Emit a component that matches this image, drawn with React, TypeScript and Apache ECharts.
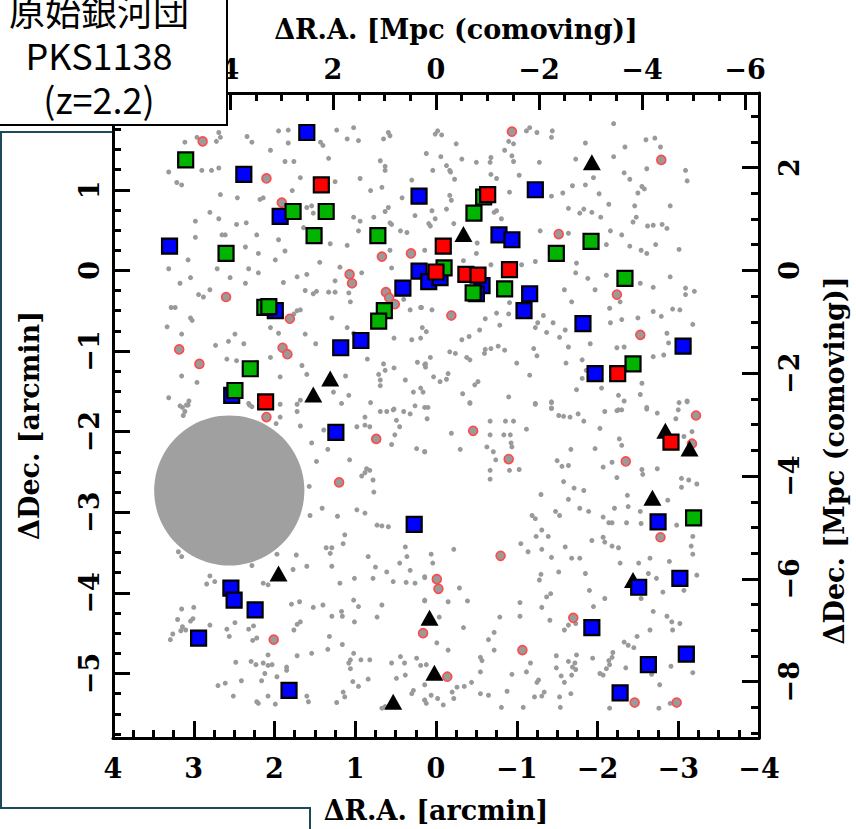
import React, { useEffect, useRef } from "react";
import * as echarts from "echarts";

// ---------- data (arcmin offsets: [ΔR.A., ΔDec.]) ----------
const MPC_PER_ARCMIN = 1.568;
const RA_MIN = -4;
const RA_MAX = 4;
const DEC_MIN = -5.8;
const DEC_MAX = 2.2;

const raArcminTicks = [4, 3, 2, 1, 0, -1, -2, -3, -4];
const decArcminLabels = [1, 0, -1, -2, -3, -4, -5];
const decArcminTicks = [2, 1, 0, -1, -2, -3, -4, -5];
const raMpcLabels = [4, 2, 0, -2, -4, -6];
const raMpcTicks = [6, 4, 2, 0, -2, -4, -6];
const decMpcLabels = [2, 0, -2, -4, -6, -8];

const titleLines = ["原始銀河団", "PKS1138", "(z=2.2)"];

// big grey masked disc: [ΔR.A., ΔDec., radius] in arcmin
const maskDisc = [[2.56, -2.73, 0.93]];

const triangles = [
  [1.31, -1.34], [1.52, -1.54], [-1.93, 1.34], [-0.34, 0.45], [1.95, -3.76], [0.53, -5.35],
  [-2.84, -1.99], [-3.14, -2.21], [-2.68, -2.82], [-2.44, -3.84], [0.08, -4.31], [0.02, -4.99],
];

const blueSquares = [
  [1.60, 1.71], [2.38, 1.19], [1.93, 0.67], [3.30, 0.30], [0.21, 0.92], [0.21, -0.01], [0.41, -0.22],
  [0.09, -0.14], [-0.05, -0.09], [1.99, -0.50], [0.93, -0.87], [1.18, -0.96], [2.53, -1.55],
  [-1.23, 1.00], [-0.78, 0.44], [-0.94, 0.38], [-0.57, -0.19], [-0.50, -0.29], [-1.16, -0.29],
  [-1.09, -0.50], [-1.82, -0.66], [-3.06, -0.94], [-1.97, -1.28],
  [1.24, -2.01], [0.27, -3.15], [2.54, -3.94], [2.50, -4.09], [2.24, -4.21], [2.94, -4.56], [1.82, -5.21],
  [-2.75, -3.12], [-3.02, -3.82], [-2.51, -3.93], [-1.93, -4.43], [-3.10, -4.76], [-2.63, -4.89], [-2.28, -5.24],
];

const greenSquares = [
  [3.10, 1.37], [1.77, 0.73], [1.36, 0.73], [1.51, 0.43], [0.72, 0.43], [2.60, 0.21], [2.12, -0.46],
  [2.07, -0.45], [0.64, -0.50], [0.71, -0.63], [2.30, -1.22], [2.49, -1.49],
  [-0.59, 0.91], [-0.47, 0.71], [-0.10, 0.03], [-0.46, -0.28], [-0.85, -0.23], [-1.49, 0.21],
  [-1.92, 0.36], [-2.34, -0.10], [-2.44, -1.16], [-3.19, -3.07],
];

const redSquares = [
  [1.42, 1.06], [2.11, -1.63], [-0.64, 0.94], [-0.09, 0.30], [0.00, -0.02], [-0.37, -0.05],
  [-0.52, -0.06], [-0.91, 0.01], [-2.25, -1.28], [-2.91, -2.13],
];

const ringGalaxies = [
  [2.89, 1.60], [2.10, 1.14], [1.91, 0.84], [0.67, 0.17], [0.31, 0.21], [1.07, -0.05], [1.04, -0.16],
  [0.62, -0.27], [0.58, -0.34], [0.51, -0.42], [2.60, -0.33], [1.81, -0.60], [3.18, -0.98], [2.93, -1.16],
  [1.90, -0.96], [1.84, -1.04], [-0.94, 1.72], [-2.79, 1.37], [-1.52, 0.45], [-2.24, -0.30], [-0.19, -0.56],
  [-2.53, -0.80], [2.10, -1.82], [0.74, -2.09], [1.20, -2.63], [2.01, -4.58], [0.16, -4.50],
  [-3.22, -1.80], [-3.17, -2.15], [-0.46, -1.99], [-0.90, -2.34], [-2.35, -2.37], [-2.78, -3.31],
  [-0.80, -3.54], [-0.01, -3.83], [-0.03, -3.95], [-1.70, -4.31], [-1.07, -4.71], [-0.14, -5.04],
  [-2.46, -5.36], [-2.98, -5.36],
];

const fieldGalaxiesNE = [
  [2.69, 1.71], [2.67, 1.65], [2.72, 1.60], [3.11, 1.59], [2.96, 1.65], [2.34, 1.66], [2.28, 1.59], [1.95, 1.73],
  [1.83, 1.74], [1.83, 1.58], [1.43, 1.59], [1.40, 1.55], [1.23, 1.74], [1.10, 1.63], [1.02, 1.77], [0.96, 1.61],
  [0.59, 1.71], [0.57, 1.67], [0.65, 1.63], [3.31, 1.22], [3.21, 1.09], [3.15, 1.06], [2.90, 1.24], [2.78, 1.24],
  [2.69, 1.27], [2.05, 1.49], [1.87, 1.35], [1.76, 1.35], [1.68, 1.15], [1.33, 1.39], [1.25, 1.10], [0.94, 1.14],
  [0.69, 1.36], [0.63, 1.29], [0.63, 1.24], [0.30, 1.12], [2.67, 0.94], [2.46, 0.90], [2.18, 0.88], [2.14, 0.90],
  [1.78, 0.99], [1.60, 0.78], [1.54, 0.80], [1.52, 0.71], [0.81, 0.99], [0.67, 1.03], [0.59, 0.78], [0.63, 0.73],
  [0.42, 0.90], [0.94, 0.61], [1.02, 0.66], [2.80, 0.72], [2.98, 0.61], [2.69, 0.64], [2.47, 0.57], [2.35, 0.59],
  [2.22, 0.44], [2.65, 0.44], [2.61, 0.44], [2.98, 0.41], [1.95, 0.38], [1.64, 0.53], [1.31, 0.33], [1.10, 0.31],
  [0.96, 0.49], [0.77, 0.66], [0.57, 0.59], [0.55, 0.57], [0.44, 0.49], [0.36, 0.47], [0.26, 0.68], [3.31, 0.02],
  [3.07, 0.13], [2.36, 0.29], [2.20, 0.21], [2.32, 0.02], [2.20, -0.03], [1.99, 0.13], [1.87, 0.24], [1.72, -0.08],
  [1.60, -0.05], [1.44, 0.10], [1.19, 0.04], [1.25, -0.13], [0.92, -0.03], [0.57, 0.25], [0.55, 0.03], [3.17, -0.16],
  [3.04, -0.09], [2.71, 0.02], [2.55, -0.09], [2.36, -0.16], [1.89, -0.15], [3.28, -0.46], [3.23, -0.46], [3.04, -0.59],
  [3.02, -0.62], [2.94, -0.30], [2.88, -0.33], [2.80, -0.24], [1.72, -0.50], [1.68, -0.49], [1.76, -0.54], [1.62, -0.25],
  [1.52, -0.29], [1.48, -0.26], [1.33, -0.27], [1.25, -0.27], [1.06, -0.39], [1.08, -0.28], [1.29, -0.59], [0.32, -0.49],
  [0.19, -0.46], [0.40, -0.36], [3.33, -0.70], [3.15, -0.79], [2.73, -0.93], [2.57, -0.88], [2.49, -0.79], [2.38, -0.91],
  [2.05, -0.71], [1.95, -0.78], [1.62, -0.79], [1.49, -0.91], [1.10, -0.71], [1.02, -0.78], [0.52, -0.84], [0.30, -0.86],
  [0.19, -0.84], [0.17, -0.71], [3.15, -1.31], [2.96, -1.39], [2.59, -1.10], [2.47, -1.12], [2.22, -1.14], [2.05, -1.08],
  [1.93, -1.32], [1.66, -1.18], [1.60, -1.29], [1.12, -1.31], [1.08, -1.55], [0.85, -1.10], [0.65, -1.16], [0.63, -1.24],
  [0.52, -1.21], [0.71, -1.29], [0.69, -1.36], [0.38, -1.36], [0.23, -1.14], [0.13, -1.16], [0.13, -1.20], [3.31, -1.58],
  [3.14, -1.70], [3.06, -1.62], [3.09, -1.67], [2.32, -1.65], [2.28, -1.69], [1.93, -1.66], [1.72, -1.66], [1.68, -1.61],
  [1.27, -1.51], [1.17, -1.65], [0.81, -1.64], [0.69, -1.43], [0.52, -1.72], [0.28, -1.51], [0.19, -1.46],
];

const fieldGalaxiesNW = [
  [0.01, 1.69], [-0.02, 1.73], [-0.07, 1.68], [-0.25, 1.57], [0.12, 1.45], [-0.06, 1.41], [-0.32, 1.38], [-0.13, 1.30],
  [-0.17, 1.24], [-0.18, 1.22], [0.04, 1.24], [-0.23, 1.13], [-0.50, 1.34], [-0.67, 1.34], [-0.68, 1.40], [-0.90, 1.60],
  [-0.96, 1.57], [-0.85, 1.49], [-0.96, 1.35], [-0.94, 1.42], [-1.12, 1.73], [-1.16, 1.77], [-1.25, 1.71], [-1.44, 1.73],
  [-1.43, 1.65], [-1.28, 1.34], [-1.03, 1.18], [-0.68, 1.19], [-0.75, 1.14], [-0.91, 0.97], [-0.72, 0.72], [-0.75, 0.74],
  [-0.81, 0.64], [0.05, 0.74], [-0.13, 0.76], [-0.17, 0.93], [-0.19, 0.87], [0.01, 0.64], [0.09, 0.58], [0.07, 0.55],
  [-0.22, 0.58], [-0.51, 0.34], [-0.50, 0.21], [-0.34, 0.12], [0.14, 0.25], [-0.68, 0.07], [-1.06, 0.07], [-1.23, 0.11],
  [-1.29, 0.49], [-1.43, 0.92], [-1.57, 0.96], [-1.69, 1.05], [-1.85, 1.06], [-1.73, 1.38], [-1.85, 1.58], [-2.20, 1.82],
  [-2.34, 1.53], [-2.20, 1.41], [-1.95, 1.15], [-2.02, 0.95], [-2.14, 0.82], [-2.33, 1.21], [-2.40, 1.13], [-2.46, 0.80],
  [-2.55, 1.04], [-2.58, 1.01], [-2.61, 1.26], [-2.50, 0.96], [-2.60, 1.62], [-2.71, 1.64], [-2.78, 1.53], [-3.09, 1.24],
  [-3.11, 1.11], [-2.90, 0.80], [-2.69, 0.56], [-2.80, 0.57], [-2.44, 0.60], [-2.48, 0.66], [-2.62, 0.55], [-2.86, 0.52],
  [-3.01, 0.26], [-2.72, 0.32], [-2.61, 0.21], [-2.54, 0.25], [-2.40, 0.30], [-2.30, 0.44], [-2.16, 0.49], [-2.11, 0.32],
  [-1.74, 0.09], [-1.64, 0.46], [-1.78, 0.71], [-1.83, 0.76], [-1.93, 0.72], [-2.04, 0.66], [-1.64, 0.77], [-2.11, -0.06],
  [-1.88, -0.10], [-1.73, -0.03], [-1.59, -0.24], [-1.68, -0.39], [-1.97, -0.24], [-2.28, -0.39], [-2.53, -0.16],
  [-2.69, -0.21], [-2.90, -0.08], [-3.09, -0.22], [-3.20, -0.26], [-3.09, -0.30], [-2.69, -0.51], [-2.79, -0.57],
  [-2.93, -0.48], [-3.02, -0.49], [-3.18, -0.67], [-2.86, -0.78], [-2.88, -0.90], [-2.69, -1.07], [-2.82, -1.05],
  [-2.50, -0.59], [-2.30, -0.61], [-2.16, -0.65], [-2.15, -0.47], [-2.24, -0.96], [-2.33, -0.95], [-1.91, -0.91],
  [-1.81, -1.11], [-1.86, -1.24], [-1.61, -1.15], [-1.64, -0.95], [-1.60, -0.74], [-1.53, -0.83], [-1.37, -0.77],
  [-1.45, -0.65], [-1.33, -0.56], [-1.23, -0.71], [-1.26, -0.65], [-1.21, -0.97], [-1.25, -1.06], [-1.00, -1.15],
  [-1.16, -1.30], [-0.85, -0.99], [-0.77, -0.94], [-0.68, -0.97], [-0.60, -1.03], [-0.61, -0.98], [-0.41, -0.82],
  [-0.32, -0.86], [-0.24, -1.03], [-0.17, -1.01], [-0.38, -1.08], [-0.42, -1.11], [-0.54, -0.74], [-0.61, -0.60],
  [-0.75, -0.53], [-0.90, -0.54], [-0.91, -0.40], [-0.79, -0.68], [0.05, -0.49], [0.18, -0.46], [0.12, -0.76],
  [0.07, -1.08], [0.14, -1.17], [0.03, -1.32], [-0.05, -1.38], [-0.15, -1.28], [-0.13, -1.35], [0.16, -1.51],
  [-0.33, -1.53], [-0.48, -1.42], [-0.52, -1.38], [-0.42, -1.65], [-0.90, -1.57], [-1.23, -1.65], [-1.43, -1.64],
  [-1.43, -1.71], [-1.74, -1.48], [-1.81, -1.34], [-2.26, -1.55], [-2.24, -1.74], [-2.05, -1.46], [-2.53, -1.54],
  [-2.55, -1.40], [-2.61, -1.72], [-3.01, -1.64], [-3.11, -1.62],
];

const fieldGalaxiesSE = [
  [3.17, -1.68], [3.07, -1.67], [3.11, -1.75], [3.13, -1.80], [2.31, -1.67], [1.93, -1.82], [1.98, -1.90], [1.68, -1.93],
  [1.72, -1.75], [1.39, -1.98], [1.54, -2.14], [1.34, -2.22], [1.48, -2.37], [1.56, -3.04], [1.57, -2.68], [1.41, -2.95],
  [1.22, -3.05], [1.07, -2.35], [0.98, -1.94], [0.88, -1.92], [0.88, -1.82], [0.82, -1.94], [0.69, -1.75], [0.61, -1.75],
  [0.53, -1.73], [0.40, -1.75], [0.32, -1.78], [0.26, -1.68], [0.49, -1.86], [0.51, -2.04], [0.55, -2.16], [0.45, -1.94],
  [0.24, -2.21], [0.14, -2.25], [0.92, -2.55], [0.86, -2.46], [0.82, -2.48], [0.88, -2.51], [0.77, -2.75], [0.78, -2.60],
  [0.98, -2.97], [0.88, -3.01], [0.73, -3.16], [0.67, -3.17], [0.59, -3.18], [1.15, -3.39], [1.13, -3.28], [1.36, -3.44],
  [1.29, -3.44], [1.31, -3.51], [1.73, -3.53], [1.77, -3.71], [1.60, -3.67], [1.29, -3.67], [1.19, -3.88], [1.01, -3.82],
  [0.84, -3.55], [0.75, -3.68], [0.78, -3.82], [0.61, -3.74], [0.53, -3.86], [0.45, -3.63], [0.36, -3.55], [0.38, -3.43],
  [0.32, -3.72], [0.26, -3.88], [0.37, -3.87], [0.14, -3.81], [0.14, -4.09], [3.19, -3.49], [3.15, -3.55], [2.28, -3.66],
  [1.97, -3.52], [2.80, -3.79], [2.74, -3.86], [2.84, -3.89], [2.14, -3.88], [2.08, -3.90], [1.79, -4.14], [1.69, -4.11],
  [1.52, -4.18], [1.40, -4.15], [1.29, -4.29], [1.16, -4.29], [1.17, -4.23], [1.02, -4.09], [0.96, -4.17], [0.67, -4.15],
  [0.73, -4.30], [1.01, -4.36], [1.68, -4.36], [1.72, -4.39], [1.76, -4.46], [1.32, -4.54], [1.34, -4.70], [1.16, -4.64],
  [1.02, -4.75], [0.93, -4.83], [1.06, -4.83], [1.06, -4.94], [1.08, -4.87], [1.03, -5.10], [0.96, -5.16], [0.84, -5.07],
  [0.82, -4.83], [0.55, -4.87], [0.44, -4.79], [0.39, -4.87], [0.24, -4.81], [0.19, -4.90], [0.49, -5.06], [0.38, -5.02],
  [0.28, -5.21], [0.30, -5.25], [0.14, -5.33], [0.14, -5.14], [3.15, -4.20], [3.00, -4.18], [3.01, -4.32], [3.04, -4.35],
  [3.14, -4.42], [3.10, -4.46], [3.20, -4.33], [3.16, -4.47], [3.26, -4.51], [3.29, -4.58], [2.80, -4.40], [2.59, -4.45],
  [2.56, -4.54], [2.49, -4.37], [2.32, -4.45], [2.26, -4.41], [2.27, -4.59], [2.22, -4.56], [2.48, -4.86], [2.29, -4.85],
  [2.23, -4.89], [2.14, -4.87], [2.08, -4.90], [2.03, -4.89], [2.08, -4.77], [2.12, -5.00], [2.16, -5.09], [1.72, -4.78],
  [1.54, -4.75], [1.85, -4.92], [1.85, -4.96], [1.97, -5.04], [2.41, -5.09], [2.70, -5.15], [2.61, -5.12], [2.51, -5.28],
  [2.22, -5.35], [2.20, -5.37], [2.08, -5.28], [1.99, -5.38], [1.60, -5.28], [1.58, -5.35], [1.23, -5.36], [1.15, -5.23],
  [1.13, -5.29], [0.63, -5.41], [0.67, -5.43],
];

const fieldGalaxiesSW = [
  [0.14, -1.70], [0.10, -1.70], [0.11, -1.84], [-0.42, -1.64], [-0.19, -2.02], [0.14, -2.25], [-0.67, -1.87], [-0.86, -1.87],
  [-0.96, -1.87], [-0.84, -2.04], [-0.67, -2.04], [-0.92, -2.04], [-0.93, -2.14], [-0.94, -2.19], [-0.63, -2.19],
  [-0.30, -2.22], [-0.71, -2.25], [-0.74, -2.35], [-0.67, -2.48], [-0.67, -2.59], [-0.91, -2.48], [-1.03, -2.47],
  [-1.12, -1.97], [-1.23, -1.66], [-1.43, -1.63], [-1.43, -1.71], [-1.52, -1.80], [-1.58, -1.81], [-1.66, -1.82],
  [-1.76, -1.78], [-1.83, -1.87], [-2.09, -1.75], [-2.26, -1.73], [-2.30, -1.73], [-2.33, -1.62], [-2.61, -1.70],
  [-2.74, -1.77], [-2.97, -1.84], [-3.00, -1.73], [-3.11, -1.63], [-3.17, -2.00], [-3.07, -2.06], [-2.03, -1.96],
  [-2.27, -2.09], [-2.30, -2.17], [-1.97, -2.21], [-2.18, -2.38], [-1.67, -2.22], [-1.50, -2.36], [-1.56, -2.43],
  [-1.64, -2.42], [-2.07, -2.44], [-2.24, -2.57], [-2.55, -2.47], [-2.56, -2.53], [-2.74, -2.46], [-3.04, -2.58],
  [-3.13, -2.60], [-3.23, -2.65], [-3.04, -2.69], [-2.87, -2.85], [-2.98, -3.16], [-3.18, -3.30], [-3.16, -3.42],
  [-3.18, -3.52], [-3.23, -3.78], [-3.07, -3.97], [-2.89, -3.61], [-2.65, -3.57], [-2.51, -3.63], [-2.63, -3.76],
  [-2.73, -3.82], [-2.81, -3.99], [-2.54, -4.07], [-2.37, -2.79], [-2.21, -2.95], [-2.38, -2.93], [-2.53, -2.99],
  [-2.54, -3.14], [-2.36, -3.13], [-2.14, -3.13], [-2.18, -3.13], [-2.07, -3.06], [-1.89, -2.99], [-1.78, -2.95],
  [-1.53, -3.04], [-1.48, -2.99], [-1.30, -2.78], [-1.19, -3.04], [-1.23, -3.08], [-1.31, -3.22], [-1.24, -3.30],
  [-1.39, -3.30], [-1.14, -3.49], [-1.05, -3.39], [-1.31, -3.46], [-1.60, -3.43], [-1.43, -3.56], [-1.68, -3.57],
  [-1.78, -3.57], [-1.85, -3.76], [-1.52, -3.74], [-1.30, -3.77], [-1.28, -3.84], [-1.64, -2.84], [-1.71, -2.70],
  [-1.83, -2.73], [-1.58, -2.62], [-1.90, -3.97], [-1.95, -4.17], [-2.09, -4.07], [-2.18, -3.42], [-2.26, -3.44],
  [-1.93, -3.35], [-2.07, -3.31], [-2.09, -3.37], [-2.28, -3.63], [-2.50, -3.98], [-2.69, -4.23], [-2.86, -4.29],
  [-2.92, -4.36], [-3.02, -4.38], [-2.93, -4.46], [-2.65, -4.46], [-2.33, -4.61], [-2.38, -4.65], [-2.45, -4.68],
  [-2.49, -4.54], [-2.14, -4.84], [-2.15, -4.89], [-2.11, -4.94], [-2.07, -5.02], [-2.18, -4.80], [-2.19, -4.74],
  [-2.35, -4.93], [-1.94, -4.81], [-2.03, -5.00], [-1.74, -4.77], [-1.72, -4.87], [-1.69, -4.92], [-1.73, -4.95],
  [-1.68, -5.02], [-1.64, -4.85], [-1.49, -4.78], [-1.49, -4.93], [-1.55, -5.03], [-1.59, -5.11], [-1.53, -5.29],
  [-1.67, -5.25], [-1.41, -4.34], [-1.59, -4.46], [-1.64, -4.40], [-1.73, -4.38], [-1.37, -4.05], [-1.42, -4.01],
  [-1.31, -4.18], [-1.04, -4.12], [-1.04, -4.29], [-0.79, -4.30], [-0.72, -4.49], [-0.65, -4.58], [-0.72, -4.71],
  [-0.55, -4.80], [-0.57, -4.84], [-0.55, -4.98], [-0.34, -4.43], [-0.39, -4.10], [-0.29, -3.94], [-0.15, -4.11],
  [0.14, -4.10], [0.06, -3.52], [0.04, -3.63], [0.14, -3.80], [-0.04, -4.30], [-0.01, -4.62], [-0.15, -4.71],
  [-0.22, -3.46], [0.12, -4.89], [0.06, -5.27], [0.14, -5.33], [0.12, -5.37], [-0.02, -5.31], [-0.09, -5.39],
  [-0.20, -5.23], [-0.22, -5.31], [-0.26, -5.17], [-0.35, -5.16], [-0.44, -5.11], [-0.55, -5.25], [-0.65, -5.27],
  [-0.88, -5.22], [-0.94, -5.01], [-1.12, -4.98], [-1.17, -4.87], [-1.27, -5.08], [-1.25, -5.11], [-1.34, -5.23],
  [-1.31, -5.28], [-1.22, -5.29], [-0.81, -5.42], [-1.08, -5.42], [-1.54, -5.42], [-2.15, -5.43], [-2.77, -5.14],
  [-2.76, -5.43], [-2.90, -5.37], [-2.30, -5.25], [-2.67, -5.01], [-2.91, -4.91], [-3.18, -4.99],
];

const fieldGalaxies = [...fieldGalaxiesNE, ...fieldGalaxiesNW, ...fieldGalaxiesSE, ...fieldGalaxiesSW];

// ---------- styling helpers ----------
const SERIF = "'DejaVu Serif', 'Liberation Serif', serif";
const CJK = "'Noto Sans CJK JP', 'Noto Sans', sans-serif";
const minus = (v: number) => (v < 0 ? "\u2212" + Math.abs(v) : String(v));

function steps(from: number, to: number, step: number) {
  const out: number[] = [];
  for (let v = from; v <= to + 1e-9; v += step) out.push(Math.round(v * 1000) / 1000);
  return out;
}

const tickLine = { color: "#000", width: 3 };
const labelStyle = { fontSize: 27, fontFamily: SERIF, fontWeight: "bold" as const, color: "#000" };
const nameStyle = { fontSize: 27, fontFamily: SERIF, fontWeight: "bold" as const, color: "#000" };

function mainAxis(o: any) {
  return {
    type: "value",
    splitLine: { show: false },
    axisLine: { show: true, onZero: false, lineStyle: { color: "#000", width: 3 } },
    ...o,
  };
}
function minorAxis(o: any) {
  return {
    type: "value",
    splitLine: { show: false },
    axisLine: { show: false, onZero: false },
    axisLabel: { show: false },
    ...o,
  };
}

export default function App() {
  const ref = useRef<HTMLDivElement>(null);

  useEffect(() => {
    if (!ref.current) return;
    const chart = echarts.init(ref.current, null, { renderer: "svg" });
    const K = MPC_PER_ARCMIN;

    const option: any = {
      animation: false,
      backgroundColor: "#fff",
      grid: { left: 113, top: 93, width: 646, height: 645, containLabel: false },
      xAxis: [
        mainAxis({
          position: "bottom", min: RA_MIN, max: RA_MAX, inverse: true,
          axisTick: { show: true, inside: true, length: 17, customValues: raArcminTicks, lineStyle: tickLine },
          axisLabel: { show: true, customValues: raArcminTicks, formatter: minus, margin: 17, ...labelStyle },
          name: "ΔR.A. [arcmin]", nameLocation: "middle", nameGap: 59, nameTextStyle: nameStyle,
        }),
        minorAxis({
          position: "bottom", min: RA_MIN, max: RA_MAX, inverse: true,
          axisTick: { show: true, inside: true, length: 8, customValues: steps(-3.75, 3.75, 0.25), lineStyle: tickLine },
        }),
        mainAxis({
          position: "top", min: RA_MIN * K, max: RA_MAX * K, inverse: true,
          axisTick: { show: true, inside: true, length: 17, customValues: raMpcTicks, lineStyle: tickLine },
          axisLabel: { show: true, customValues: raMpcLabels, formatter: minus, margin: 10, ...labelStyle },
          name: "ΔR.A. [Mpc (comoving)]", nameLocation: "middle", nameGap: 50,
          nameTextStyle: { ...nameStyle, padding: [0, 0, 0, 40] },
        }),
        minorAxis({
          position: "top", min: RA_MIN * K, max: RA_MAX * K, inverse: true,
          axisTick: { show: true, inside: true, length: 8, customValues: steps(-6, 6, 0.5), lineStyle: tickLine },
        }),
      ],
      yAxis: [
        mainAxis({
          position: "left", min: DEC_MIN, max: DEC_MAX,
          axisTick: { show: true, inside: true, length: 17, customValues: decArcminTicks, lineStyle: tickLine },
          axisLabel: { show: true, customValues: decArcminLabels, formatter: minus, rotate: 90, margin: 10, ...labelStyle },
          name: "ΔDec. [arcmin]", nameLocation: "middle", nameGap: 70, nameRotate: 90,
          nameTextStyle: { ...nameStyle, padding: [0, 20, 0, 0] },
        }),
        minorAxis({
          position: "left", min: DEC_MIN, max: DEC_MAX,
          axisTick: { show: true, inside: true, length: 8, customValues: steps(-5.75, 2, 0.25), lineStyle: tickLine },
        }),
        mainAxis({
          position: "right", min: DEC_MIN * K, max: DEC_MAX * K,
          axisTick: { show: true, inside: true, length: 17, customValues: decMpcLabels, lineStyle: tickLine },
          axisLabel: { show: true, customValues: decMpcLabels, formatter: minus, rotate: 90, margin: 17, ...labelStyle },
          name: "ΔDec. [Mpc (comoving)]", nameLocation: "middle", nameGap: 62, nameRotate: 90,
          nameTextStyle: { ...nameStyle, padding: [0, 90, 0, 0] },
        }),
        minorAxis({
          position: "right", min: DEC_MIN * K, max: DEC_MAX * K,
          axisTick: { show: true, inside: true, length: 8, customValues: steps(-9, 3, 0.5), lineStyle: tickLine },
        }),
      ],
      series: [
        {
          type: "scatter", name: "field", xAxisIndex: 0, yAxisIndex: 0, data: fieldGalaxies,
          symbol: "circle", symbolSize: 5, itemStyle: { color: "#9a9a9a", opacity: 1 }, z: 1,
        },
        {
          type: "custom", name: "mask", xAxisIndex: 0, yAxisIndex: 0, data: maskDisc, z: 2,
          encode: { x: 0, y: 1 },
          renderItem: (params: any, api: any) => {
            const c = api.coord([api.value(0), api.value(1)]);
            const s = api.size([api.value(2), api.value(2)]);
            return { type: "circle", shape: { cx: c[0], cy: c[1], r: s[0] }, style: { fill: "#a0a0a0" } };
          },
        },
        {
          type: "scatter", name: "rings", xAxisIndex: 0, yAxisIndex: 0, data: ringGalaxies,
          symbol: "circle", symbolSize: 9,
          itemStyle: { color: "#9a9a9a", borderColor: "#ff4a4a", borderWidth: 1.6, opacity: 1 }, z: 3,
        },
        {
          type: "scatter", name: "triangles", xAxisIndex: 0, yAxisIndex: 0, data: triangles,
          symbol: "triangle", symbolSize: [18, 16], itemStyle: { color: "#000", opacity: 1 }, z: 4,
        },
        {
          type: "scatter", name: "blue", xAxisIndex: 0, yAxisIndex: 0, data: blueSquares,
          symbol: "rect", symbolSize: 15,
          itemStyle: { color: "#0000ff", borderColor: "#000", borderWidth: 2.2, opacity: 1 }, z: 5,
        },
        {
          type: "scatter", name: "green", xAxisIndex: 0, yAxisIndex: 0, data: greenSquares,
          symbol: "rect", symbolSize: 15,
          itemStyle: { color: "#00b400", borderColor: "#000", borderWidth: 2.2, opacity: 1 }, z: 6,
        },
        {
          type: "scatter", name: "red", xAxisIndex: 0, yAxisIndex: 0, data: redSquares,
          symbol: "rect", symbolSize: 15,
          itemStyle: { color: "#ff0000", borderColor: "#000", borderWidth: 2.2, opacity: 1 }, z: 7,
        },
      ],
      graphic: [
        { type: "line", z: 100, shape: { x1: 1, y1: 131, x2: 1, y2: 809 }, style: { stroke: "#1d4a5a", lineWidth: 2 } },
        { type: "line", z: 100, shape: { x1: 0, y1: 132, x2: 112, y2: 132 }, style: { stroke: "#1d4a5a", lineWidth: 2 } },
        { type: "line", z: 100, shape: { x1: 0, y1: 808, x2: 311, y2: 808 }, style: { stroke: "#1d4a5a", lineWidth: 2 } },
        { type: "line", z: 100, shape: { x1: 310, y1: 807, x2: 310, y2: 829 }, style: { stroke: "#1d4a5a", lineWidth: 2 } },
        {
          type: "rect", z: 100, shape: { x: -2, y: -2, width: 229, height: 127 },
          style: { fill: "#fff", stroke: "#000", lineWidth: 2 },
        },
        {
          type: "text", z: 101, x: 99, y: 54,
          style: {
            text: titleLines.join("\n"), fontSize: 36, lineHeight: 44, fontFamily: CJK, fill: "#000",
            align: "center", verticalAlign: "middle",
          },
        },
      ],
    };

    chart.setOption(option);
    return () => chart.dispose();
  }, []);

  return (
    <div
      ref={ref}
      style={{ position: "absolute", left: 0, top: 0, width: 856, height: 829, background: "#fff" }}
    />
  );
}
